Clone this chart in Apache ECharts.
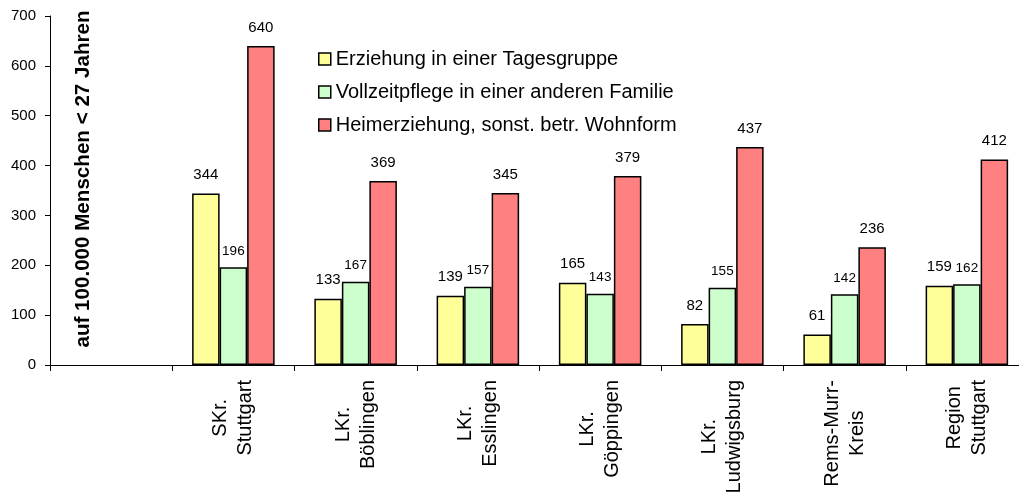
<!DOCTYPE html>
<html>
<head>
<meta charset="utf-8">
<script src="https://cdn.jsdelivr.net/npm/echarts@6/dist/echarts.min.js"></script>
<style>
html,body{margin:0;padding:0;background:#fff;}
#chart{width:1019px;height:498px;}
</style>
</head>
<body>
<div id="chart"></div>
<script>
const categories = ['', 'SKr.\nStuttgart', 'LKr.\nBöblingen', 'LKr.\nEsslingen', 'LKr.\nGöppingen', 'LKr.\nLudwigsburg', 'Rems-Murr-\nKreis', 'Region\nStuttgart'];
const seriesNames = ['Erziehung in einer Tagesgruppe', 'Vollzeitpflege in einer anderen Familie', 'Heimerziehung, sonst. betr. Wohnform'];
const tagesgruppe = [null, 344, 133, 139, 165, 82, 61, 159];
const vollzeitpflege = [null, 196, 167, 157, 143, 155, 142, 162];
const heimerziehung = [null, 640, 369, 345, 379, 437, 236, 412];
const yTitle = 'auf 100.000 Menschen < 27 Jahren';

const FONT = '"Liberation Sans", Arial, sans-serif';
const chart = echarts.init(document.getElementById('chart'), null, {renderer: 'canvas'});

function barSeries(name, data, color, labelSize, dist) {
  return {
    name: name,
    type: 'bar',
    data: data,
    barGap: '0%',
    barCategoryGap: '32.5%',
    itemStyle: {color: color, borderColor: '#000', borderWidth: 1.5},
    label: {
      show: true, position: 'top', distance: dist,
      fontFamily: FONT, fontSize: labelSize, color: '#000'
    }
  };
}

chart.setOption({
  animation: false,
  backgroundColor: '#fff',
  textStyle: {fontFamily: FONT},
  grid: {left: 50, top: 16, bottom: 133, width: 978, containLabel: false, outerBoundsMode: 'none'},
  legend: {
    orient: 'vertical', left: 313, top: 44,
    itemWidth: 12, itemHeight: 12, itemGap: 13,
    icon: 'rect',
    itemStyle: {borderColor: '#000', borderWidth: 1.5},
    textStyle: {fontFamily: FONT, fontSize: 20, color: '#000'},
    data: seriesNames
  },
  xAxis: {
    type: 'category',
    data: categories,
    axisLine: {lineStyle: {color: '#000', width: 1}},
    axisTick: {show: true, interval: 0, length: 6, lineStyle: {color: '#000'}},
    axisLabel: {
      interval: 0, rotate: 90, margin: 15,
      fontFamily: FONT, fontSize: 20, color: '#000',
      formatter: function (v) {
        if (!v) return '';
        return v.split('\n').map(function (l) { return '{c|' + l + '}'; }).join('\n');
      },
      rich: {c: {align: 'center', fontFamily: FONT, fontSize: 20, lineHeight: 25, color: '#000'}}
    }
  },
  yAxis: {
    type: 'value', min: 0, max: 700, interval: 100,
    splitLine: {show: false},
    axisLine: {show: true, lineStyle: {color: '#000', width: 1}},
    axisTick: {show: true, length: 5, lineStyle: {color: '#000'}},
    axisLabel: {margin: 14, fontFamily: FONT, fontSize: 15, color: '#000'}
  },
  graphic: [{
    type: 'text',
    x: 83, y: 179,
    rotation: Math.PI / 2,
    style: {
      text: yTitle,
      font: 'bold 20.6px ' + FONT,
      fill: '#000',
      textAlign: 'center',
      textVerticalAlign: 'middle'
    }
  }],
  series: [
    barSeries(seriesNames[0], tagesgruppe, '#FFFF99', 15, 11),
    barSeries(seriesNames[1], vollzeitpflege, '#CCFFCC', 13.5, 9),
    barSeries(seriesNames[2], heimerziehung, '#FF8080', 15, 11)
  ]
});
</script>
</body>
</html>
